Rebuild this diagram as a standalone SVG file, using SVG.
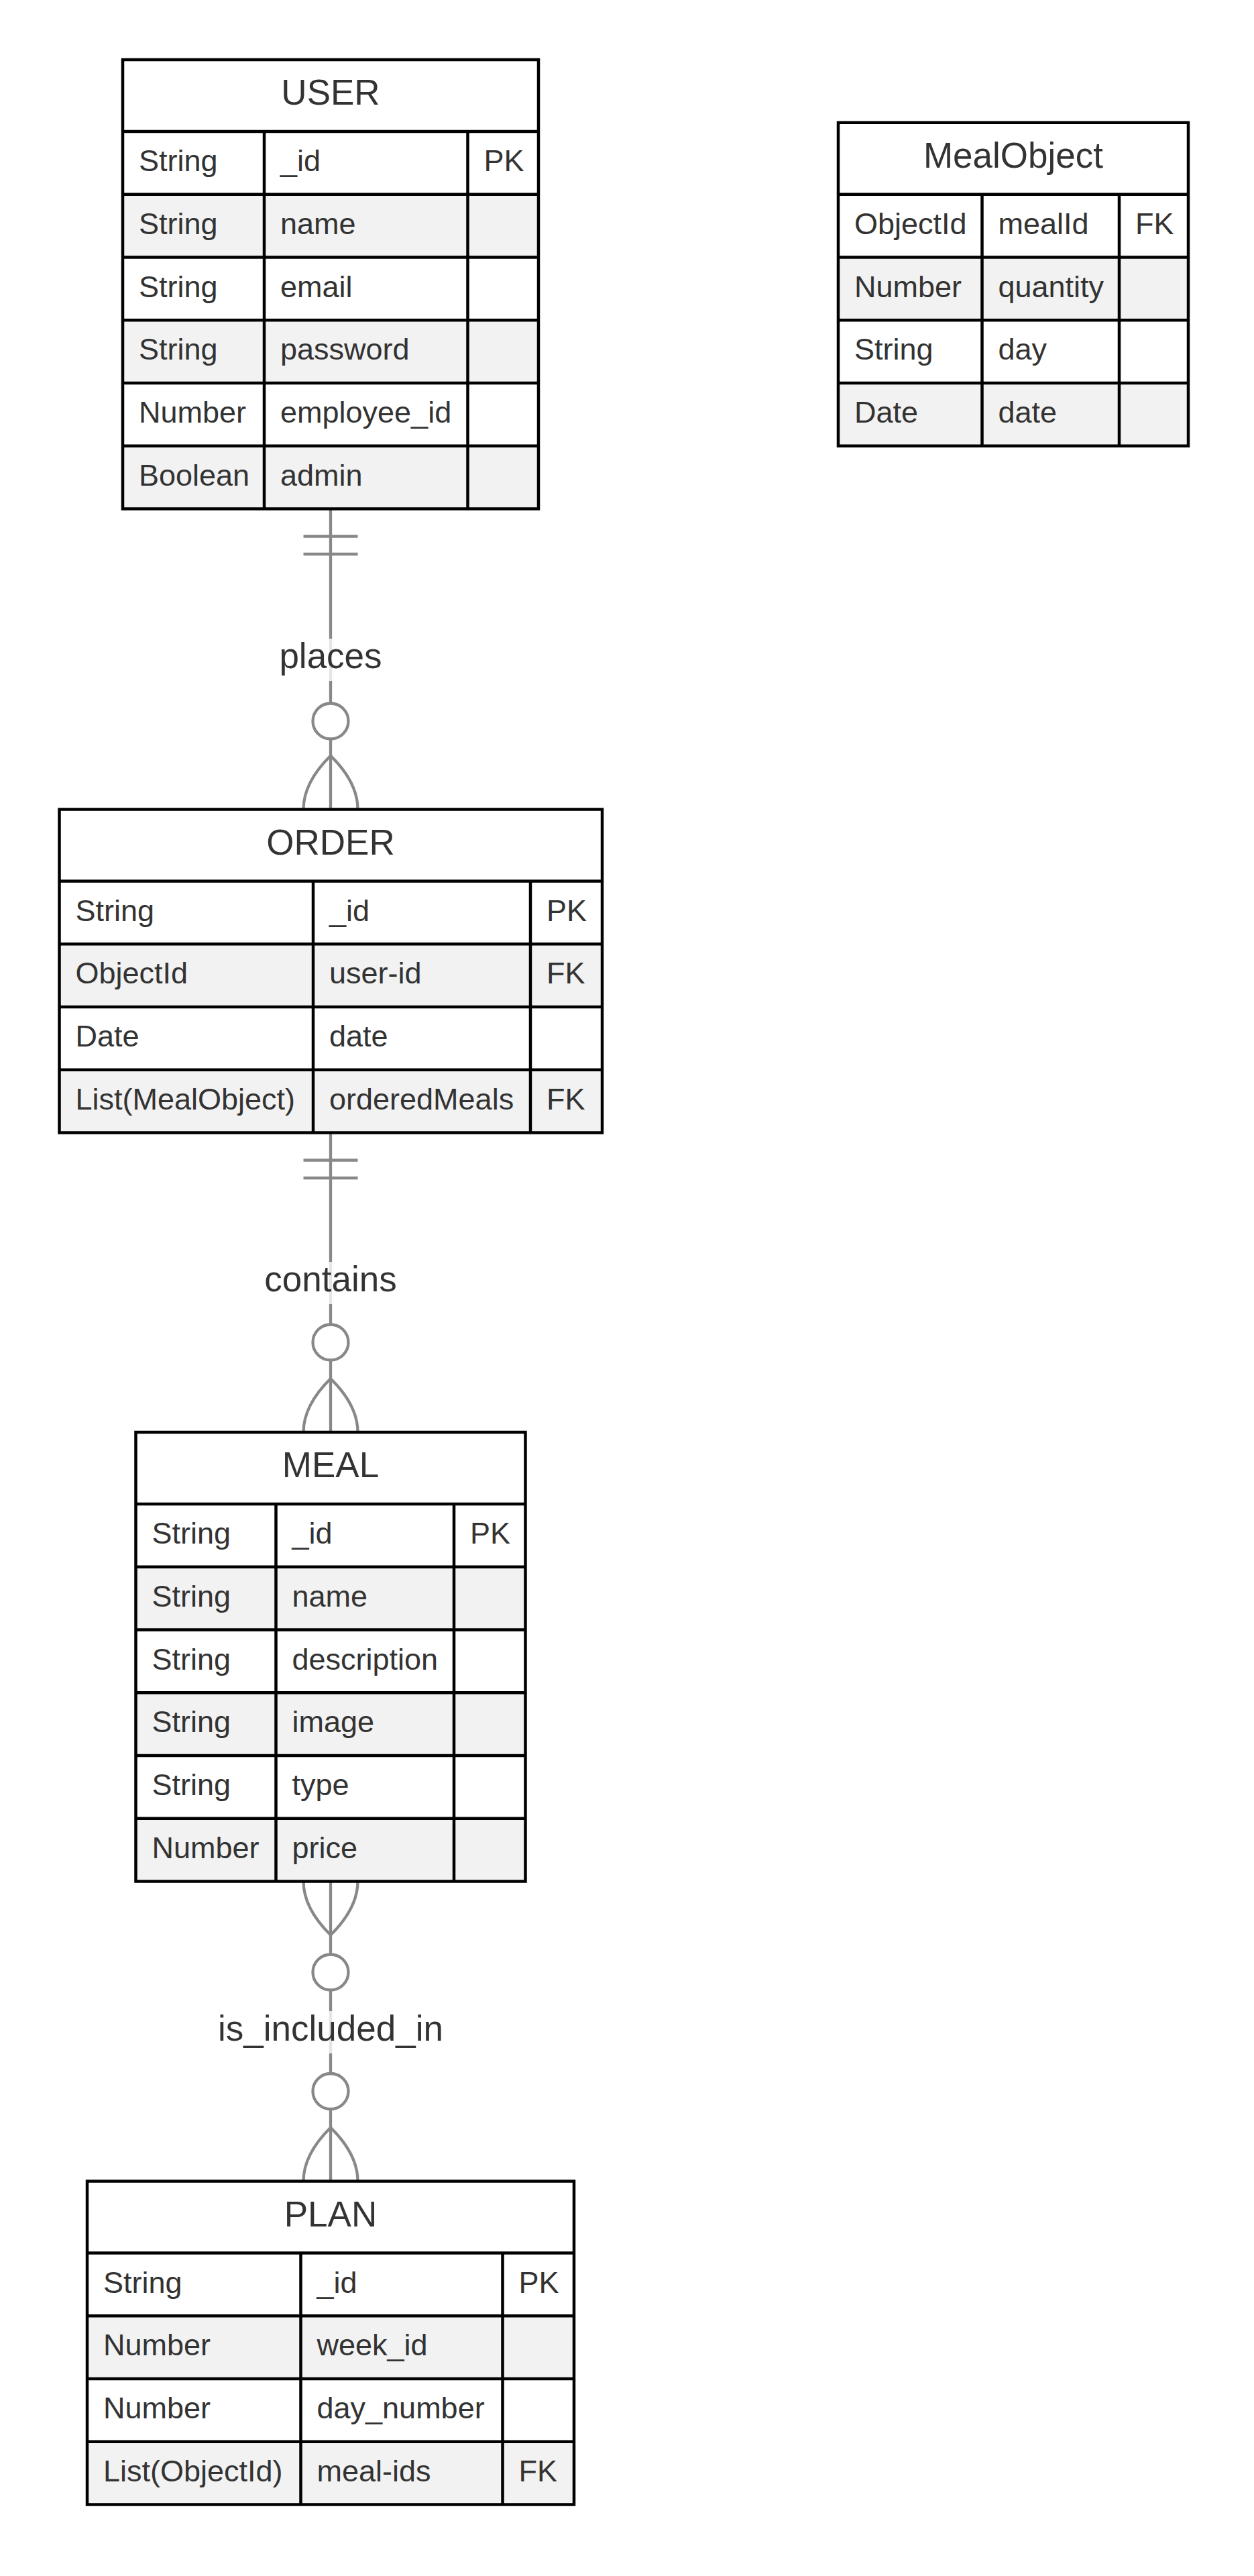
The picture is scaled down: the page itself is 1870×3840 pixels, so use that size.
<svg xmlns="http://www.w3.org/2000/svg" width="1870" height="3840" viewBox="0 0 1870 3840">
  <style>
    text { font-family: "Liberation Sans", Arial, Helvetica, sans-serif; fill: #333333; }
    .title { font-size: 53px; text-anchor: middle; }
    .attr { font-size: 45px; }
    .lbl { font-size: 53px; text-anchor: middle; }
    .hd { fill: #ffffff; }
    .w { fill: #ffffff; }
    .g { fill: #f2f2f2; }
    .grid { stroke: #000000; stroke-width: 4.5; fill: none; }
    .rel { stroke: #888888; stroke-width: 4.3; fill: none; }
    .dot { stroke: #888888; stroke-width: 4.3; fill: #ffffff; }
    .lblbg { fill: #ffffff; fill-opacity: 0.78; }
  </style>

  <rect x="0" y="0" width="1870" height="3840" fill="#ffffff"/>

  <!-- relationships -->
  <g id="connectors">
    <!-- USER exactly one, ORDER zero or many: places -->
    <g id="rel-places">
      <line class="rel" x1="493" y1="758.5" x2="493" y2="1206.5"/>
      <line class="rel" x1="452.5" y1="799.5" x2="533.5" y2="799.5"/>
      <line class="rel" x1="452.5" y1="826" x2="533.5" y2="826"/>
      <rect class="lblbg" x="413" y="952" width="160" height="63"/>
      <text class="lbl" x="493" y="996">places</text>
      <circle class="dot" cx="493" cy="1075" r="26.5"/>
      <path class="rel" d="M452.5,1206.5 Q452.5,1166.5 493,1126.5 Q533.5,1166.5 533.5,1206.5"/>
    </g>
    <!-- ORDER exactly one, MEAL zero or many: contains -->
    <g id="rel-contains">
      <line class="rel" x1="493" y1="1688.5" x2="493" y2="2135"/>
      <line class="rel" x1="452.5" y1="1729.5" x2="533.5" y2="1729.5"/>
      <line class="rel" x1="452.5" y1="1756" x2="533.5" y2="1756"/>
      <rect class="lblbg" x="392" y="1881" width="202" height="63"/>
      <text class="lbl" x="493" y="1924.5">contains</text>
      <circle class="dot" cx="493" cy="2001" r="26.5"/>
      <path class="rel" d="M452.5,2135 Q452.5,2095 493,2055 Q533.5,2095 533.5,2135"/>
    </g>
    <!-- MEAL zero or many, PLAN zero or many: is_included_in -->
    <g id="rel-included">
      <line class="rel" x1="493" y1="2804.5" x2="493" y2="3251.5"/>
      <path class="rel" d="M452.5,2804.5 Q452.5,2844.5 493,2884.5 Q533.5,2844.5 533.5,2804.5"/>
      <circle class="dot" cx="493" cy="2940" r="26.5"/>
      <rect class="lblbg" x="321" y="2998" width="344" height="63"/>
      <text class="lbl" x="493" y="3042">is_included_in</text>
      <circle class="dot" cx="493" cy="3117.5" r="26.5"/>
      <path class="rel" d="M452.5,3251.5 Q452.5,3211.5 493,3171.5 Q533.5,3211.5 533.5,3251.5"/>
    </g>
  </g>

  <!-- USER -->
  <g id="entity-user">
    <rect class="hd" x="183" y="89" width="620" height="107"/>
    <rect class="w" x="183" y="196" width="620" height="93.75"/>
    <rect class="g" x="183" y="289.75" width="620" height="93.75"/>
    <rect class="w" x="183" y="383.5" width="620" height="93.75"/>
    <rect class="g" x="183" y="477.25" width="620" height="93.75"/>
    <rect class="w" x="183" y="571" width="620" height="93.75"/>
    <rect class="g" x="183" y="664.75" width="620" height="93.75"/>
    <path class="grid" d="M183,196H803 M183,289.75H803 M183,383.5H803 M183,477.25H803 M183,571H803 M183,664.75H803 M394,196V758.5 M697.5,196V758.5"/>
    <rect class="grid" x="183" y="89" width="620" height="669.5"/>
    <text class="title" x="493" y="156">USER</text>
    <text class="attr" x="207" y="255">String</text>
    <text class="attr" x="418" y="255">_id</text>
    <text class="attr" x="721.5" y="255">PK</text>
    <text class="attr" x="207" y="348.75">String</text>
    <text class="attr" x="418" y="348.75">name</text>
    <text class="attr" x="207" y="442.5">String</text>
    <text class="attr" x="418" y="442.5">email</text>
    <text class="attr" x="207" y="536.25">String</text>
    <text class="attr" x="418" y="536.25">password</text>
    <text class="attr" x="207" y="630">Number</text>
    <text class="attr" x="418" y="630">employee_id</text>
    <text class="attr" x="207" y="723.75">Boolean</text>
    <text class="attr" x="418" y="723.75">admin</text>
  </g>

  <!-- MealObject -->
  <g id="entity-mealobject">
    <rect class="hd" x="1250" y="182.75" width="522" height="107"/>
    <rect class="w" x="1250" y="289.75" width="522" height="93.75"/>
    <rect class="g" x="1250" y="383.5" width="522" height="93.75"/>
    <rect class="w" x="1250" y="477.25" width="522" height="93.75"/>
    <rect class="g" x="1250" y="571" width="522" height="93.75"/>
    <path class="grid" d="M1250,289.75H1772 M1250,383.5H1772 M1250,477.25H1772 M1250,571H1772 M1464.5,289.75V664.75 M1669,289.75V664.75"/>
    <rect class="grid" x="1250" y="182.75" width="522" height="482"/>
    <text class="title" x="1511" y="249.75">MealObject</text>
    <text class="attr" x="1274" y="348.75">ObjectId</text>
    <text class="attr" x="1488.5" y="348.75">mealId</text>
    <text class="attr" x="1693" y="348.75">FK</text>
    <text class="attr" x="1274" y="442.5">Number</text>
    <text class="attr" x="1488.5" y="442.5">quantity</text>
    <text class="attr" x="1274" y="536.25">String</text>
    <text class="attr" x="1488.5" y="536.25">day</text>
    <text class="attr" x="1274" y="630">Date</text>
    <text class="attr" x="1488.5" y="630">date</text>
  </g>

  <!-- ORDER -->
  <g id="entity-order">
    <rect class="hd" x="88.5" y="1206.5" width="809.5" height="107"/>
    <rect class="w" x="88.5" y="1313.5" width="809.5" height="93.75"/>
    <rect class="g" x="88.5" y="1407.25" width="809.5" height="93.75"/>
    <rect class="w" x="88.5" y="1501" width="809.5" height="93.75"/>
    <rect class="g" x="88.5" y="1594.75" width="809.5" height="93.75"/>
    <path class="grid" d="M88.5,1313.5H898 M88.5,1407.25H898 M88.5,1501H898 M88.5,1594.75H898 M467,1313.5V1688.5 M791,1313.5V1688.5"/>
    <rect class="grid" x="88.5" y="1206.5" width="809.5" height="482"/>
    <text class="title" x="493" y="1273.5">ORDER</text>
    <text class="attr" x="112.5" y="1372.5">String</text>
    <text class="attr" x="491" y="1372.5">_id</text>
    <text class="attr" x="815" y="1372.5">PK</text>
    <text class="attr" x="112.5" y="1466.25">ObjectId</text>
    <text class="attr" x="491" y="1466.25">user-id</text>
    <text class="attr" x="815" y="1466.25">FK</text>
    <text class="attr" x="112.5" y="1560">Date</text>
    <text class="attr" x="491" y="1560">date</text>
    <text class="attr" x="112.5" y="1653.75">List(MealObject)</text>
    <text class="attr" x="491" y="1653.75">orderedMeals</text>
    <text class="attr" x="815" y="1653.75">FK</text>
  </g>

  <!-- MEAL -->
  <g id="entity-meal">
    <rect class="hd" x="202.5" y="2135" width="581" height="107"/>
    <rect class="w" x="202.5" y="2242" width="581" height="93.75"/>
    <rect class="g" x="202.5" y="2335.75" width="581" height="93.75"/>
    <rect class="w" x="202.5" y="2429.5" width="581" height="93.75"/>
    <rect class="g" x="202.5" y="2523.25" width="581" height="93.75"/>
    <rect class="w" x="202.5" y="2617" width="581" height="93.75"/>
    <rect class="g" x="202.5" y="2710.75" width="581" height="93.75"/>
    <path class="grid" d="M202.5,2242H783.5 M202.5,2335.75H783.5 M202.5,2429.5H783.5 M202.5,2523.25H783.5 M202.5,2617H783.5 M202.5,2710.75H783.5 M411.5,2242V2804.5 M677,2242V2804.5"/>
    <rect class="grid" x="202.5" y="2135" width="581" height="669.5"/>
    <text class="title" x="493" y="2202">MEAL</text>
    <text class="attr" x="226.5" y="2301">String</text>
    <text class="attr" x="435.5" y="2301">_id</text>
    <text class="attr" x="701" y="2301">PK</text>
    <text class="attr" x="226.5" y="2394.75">String</text>
    <text class="attr" x="435.5" y="2394.75">name</text>
    <text class="attr" x="226.5" y="2488.5">String</text>
    <text class="attr" x="435.5" y="2488.5">description</text>
    <text class="attr" x="226.5" y="2582.25">String</text>
    <text class="attr" x="435.5" y="2582.25">image</text>
    <text class="attr" x="226.5" y="2676">String</text>
    <text class="attr" x="435.5" y="2676">type</text>
    <text class="attr" x="226.5" y="2769.75">Number</text>
    <text class="attr" x="435.5" y="2769.75">price</text>
  </g>

  <!-- PLAN -->
  <g id="entity-plan">
    <rect class="hd" x="130" y="3251.5" width="726" height="107"/>
    <rect class="w" x="130" y="3358.5" width="726" height="93.75"/>
    <rect class="g" x="130" y="3452.25" width="726" height="93.75"/>
    <rect class="w" x="130" y="3546" width="726" height="93.75"/>
    <rect class="g" x="130" y="3639.75" width="726" height="93.75"/>
    <path class="grid" d="M130,3358.5H856 M130,3452.25H856 M130,3546H856 M130,3639.75H856 M448.5,3358.5V3733.5 M749.5,3358.5V3733.5"/>
    <rect class="grid" x="130" y="3251.5" width="726" height="482"/>
    <text class="title" x="493" y="3318.5">PLAN</text>
    <text class="attr" x="154" y="3417.5">String</text>
    <text class="attr" x="472.5" y="3417.5">_id</text>
    <text class="attr" x="773.5" y="3417.5">PK</text>
    <text class="attr" x="154" y="3511.25">Number</text>
    <text class="attr" x="472.5" y="3511.25">week_id</text>
    <text class="attr" x="154" y="3605">Number</text>
    <text class="attr" x="472.5" y="3605">day_number</text>
    <text class="attr" x="154" y="3698.75">List(ObjectId)</text>
    <text class="attr" x="472.5" y="3698.75">meal-ids</text>
    <text class="attr" x="773.5" y="3698.75">FK</text>
  </g>
</svg>
